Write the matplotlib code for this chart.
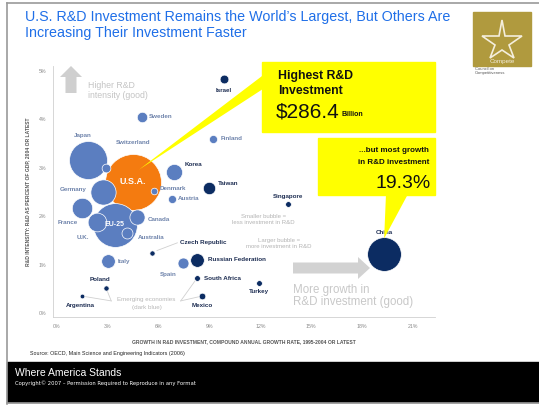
import matplotlib
matplotlib.use("Agg")
import matplotlib.pyplot as plt
from matplotlib.patches import Rectangle, Polygon, FancyArrow

plt.rcParams['font.family'] = ['Liberation Sans', 'DejaVu Sans']

# R&D growth (CAGR %, x), R&D intensity (% of GDP, y), R&D spend (billion $)
countries = ['U.S.A.', 'EU-25', 'Japan', 'China', 'Germany', 'France', 'U.K.', 'Korea',
             'Canada', 'Italy', 'Russian Federation', 'Taiwan', 'Australia', 'Spain',
             'Sweden', 'Switzerland', 'Israel', 'Finland', 'Austria', 'Denmark',
             'Mexico', 'Turkey', 'South Africa', 'Singapore', 'Czech Republic',
             'Poland', 'Argentina']
growth = [4.48, 3.42, 1.83, 19.3, 2.71, 1.47, 2.36, 6.9,
          4.72, 3.0, 8.26, 8.97, 4.13, 7.43,
          5.0, 2.9, 9.85, 9.2, 6.8, 5.72,
          8.55, 11.9, 8.26, 13.6, 5.6,
          2.89, 1.47]
intensity = [2.71, 1.82, 3.16, 1.22, 2.5, 2.17, 1.88, 2.91,
             1.98, 1.07, 1.1, 2.58, 1.65, 1.03,
             4.05, 3.0, 4.83, 3.6, 2.36, 2.52,
             0.35, 0.62, 0.72, 2.25, 1.24,
             0.52, 0.35]
invest = [286.4, 175, 132, 104, 58, 38, 32, 24,
          21, 17, 17, 14, 11, 11,
          10, 7, 7, 6, 6, 4,
          4, 3, 3, 3, 2.5,
          2.5, 2]
group = ['us', 'oecd', 'oecd', 'emerging', 'oecd', 'oecd', 'oecd', 'oecd',
         'oecd', 'oecd', 'emerging', 'emerging', 'oecd', 'oecd',
         'oecd', 'oecd', 'emerging', 'oecd', 'oecd', 'oecd',
         'emerging', 'emerging', 'emerging', 'emerging', 'emerging',
         'emerging', 'emerging']

xticks = [0, 3, 6, 9, 12, 15, 18, 21]
yticks = [0, 1, 2, 3, 4, 5]

# label offsets in pixels, alignment, style
label_pos = {
    'U.S.A.': (0, 0, 'center', 'inside'),
    'EU-25': (0, 0, 'center', 'inside'),
    'Japan': (-5, 25, 'center', 'light'),
    'China': (0, 21, 'center', 'dark'),
    'Germany': (-16, 2, 'right', 'light'),
    'France': (-4, -15, 'right', 'light'),
    'U.K.': (-14, -15, 'center', 'light'),
    'Korea': (11, 8, 'left', 'dark'),
    'Canada': (11, -2, 'left', 'light'),
    'Italy': (10, 0, 'left', 'light'),
    'Russian Federation': (11, 0, 'left', 'dark'),
    'Taiwan': (9, 5, 'left', 'dark'),
    'Australia': (11, -4, 'left', 'light'),
    'Spain': (-15, -11, 'center', 'light'),
    'Sweden': (7, 0, 'left', 'light'),
    'Switzerland': (27, 25, 'center', 'light'),
    'Israel': (0, -11, 'center', 'dark'),
    'Finland': (8, 0, 'left', 'light'),
    'Austria': (6, 0, 'left', 'light'),
    'Denmark': (6, 3, 'left', 'light'),
    'Mexico': (0, -9, 'center', 'dark'),
    'Turkey': (0, -9, 'center', 'dark'),
    'South Africa': (7, 0, 'left', 'dark'),
    'Singapore': (0, 8, 'center', 'dark'),
    'Czech Republic': (28, 10, 'left', 'dark'),
    'Poland': (-6, 8, 'center', 'dark'),
    'Argentina': (-2, -9, 'center', 'dark'),
}

W, H = 539, 405
fig = plt.figure(figsize=(W / 100, H / 100), dpi=100)
fig.patch.set_facecolor('white')

# plot area: 0% x at px 57, 16.95 px per point; 0% y at px 313, 48.4 px per point
ax_l, ax_r, ax_t, ax_b = 53, 435, 66, 317
ax = fig.add_axes([ax_l / W, 1 - ax_b / H, (ax_r - ax_l) / W, (ax_b - ax_t) / H])
ax.set_xlim(-(57 - ax_l) / 16.95, (ax_r - 57) / 16.95)
ax.set_ylim(-(ax_b - 313) / 48.4, (313 - ax_t) / 48.4)
ax.set_facecolor('none')
for s in ['top', 'right']:
    ax.spines[s].set_visible(False)
for s in ['left', 'bottom']:
    ax.spines[s].set_color('#d0d0d0')
    ax.spines[s].set_linewidth(0.6)
ax.set_xticks(xticks)
ax.set_xticklabels([f'{t}%' for t in xticks])
ax.set_yticks(yticks)
ax.set_yticklabels([f'{t}%' for t in yticks])
ax.tick_params(labelsize=3.8, colors='#b0b0b0', length=0, pad=5)
for t in ax.get_xticklabels() + ax.get_yticklabels():
    t.set_color('#8a8a8a')

colors = {'us': '#f47b10', 'oecd': '#5b7ec0', 'emerging': '#0c2c62'}
k = 5.68  # marker area per billion dollars
order = sorted(range(len(countries)), key=lambda i: -invest[i])
for rank, i in enumerate(order):
    ax.scatter(growth[i], intensity[i], s=invest[i] * k, color=colors[group[i]],
               edgecolor='white', linewidth=0.5, zorder=2 + rank * 0.01)

for i, name in enumerate(countries):
    dx, dy, ha, style = label_pos[name]
    if style == 'inside':
        kw = dict(color='white', fontsize=6.5 if name == 'U.S.A.' else 5, fontweight='bold')
    elif style == 'dark':
        kw = dict(color='#1d2d52', fontsize=4.5, fontweight='bold')
    else:
        kw = dict(color='#6e83ab', fontsize=4.5, fontweight='bold')
    ax.annotate(name, (growth[i], intensity[i]), xytext=(dx, dy),
                textcoords='offset pixels', ha=ha, va='center', zorder=5, **kw)

# leader lines
lc = '#d0d0d0'
ci = countries.index('Czech Republic')
ax.plot([growth[ci] + 0.3, 7.1], [intensity[ci] + 0.05, 1.45], color=lc, lw=0.6, zorder=1)
ax.text(5.25, 0.28, 'Emerging economies', fontsize=4.5, color='#b8b8b8',
        ha='center', va='center', zorder=5)
ax.text(5.3, 0.12, '(dark blue)', fontsize=4.5, color='#b8b8b8',
        ha='center', va='center', zorder=5)
for name, x0, y0 in [('Argentina', 3.2, 0.25), ('Poland', 3.2, 0.25),
                     ('South Africa', 7.3, 0.25), ('Mexico', 7.3, 0.25)]:
    j = countries.index(name)
    ax.plot([x0, growth[j]], [y0, intensity[j]], color=lc, lw=0.6, zorder=1)

ax.text(1.85, 4.6, 'Higher R&D\nintensity (good)', fontsize=6.3, color='#c4c4c4',
        ha='left', va='center', linespacing=1.1)
ax.text(13.9, 0.35, 'More growth in\nR&D investment (good)', fontsize=8.3, color='#c8c8c8',
        ha='left', va='center', linespacing=1.05)
ax.text(12.2, 1.94, 'Smaller bubble =\nless investment in R&D', fontsize=4.3,
        color='#b4b4b4', ha='center', va='center')
ax.text(13.1, 1.44, 'Larger bubble =\nmore investment in R&D', fontsize=4.3,
        color='#b4b4b4', ha='center', va='center')

ax.set_xlabel('GROWTH IN R&D INVESTMENT, COMPOUND ANNUAL GROWTH RATE, 1995-2004 OR LATEST',
              fontsize=3.6, color='#555555', fontweight='bold', labelpad=7)
ax.set_ylabel('R&D INTENSITY: R&D AS PERCENT OF GDP, 2004 OR LATEST',
              fontsize=3.6, color='#555555', fontweight='bold', labelpad=6)

# overlay in slide pixel coordinates
ov = fig.add_axes([0, 0, 1, 1], zorder=3)
ov.set_xlim(0, W)
ov.set_ylim(H, 0)
ov.axis('off')
ov.patch.set_alpha(0)

def to_px(x, y):
    fig.canvas.draw()
    px, py = ax.transData.transform((x, y))
    return px, H - py

# slide frame and footer
ov.plot([7, 7], [3, 404], color='#9a9a9a', lw=1.2)
ov.plot([7, W], [3, 3], color='#9a9a9a', lw=1.2)
ov.add_patch(Rectangle((7, 362), W - 7, 40, color='black'))
ov.plot([7, W], [403, 403], color='#9a9a9a', lw=1.2)
ov.text(15, 373, 'Where America Stands', color='white', fontsize=7.5, va='center')
ov.text(15, 383, 'Copyright\u00a9 2007 \u2013 Permission Required to Reproduce in any Format',
        color='white', fontsize=3.8, va='center', family='DejaVu Sans')
ov.text(30, 354, 'Source: OECD, Main Science and Engineering Indicators (2006)',
        fontsize=3.9, color='#222222', va='center')

ov.text(25, 25, 'U.S. R&D Investment Remains the World\u2019s Largest, But Others Are\n'
        'Increasing Their Investment Faster', color='#1f6fe8', fontsize=10.3,
        va='center', linespacing=1.25)

# logo
ov.add_patch(Rectangle((473, 12), 58, 54, color='#b09a3e'))
star = [(502, 20), (505, 36), (522, 36), (509, 45), (514, 58), (502, 50), (490, 58),
        (495, 45), (482, 36), (499, 36)]
ov.add_patch(Polygon(star, closed=True, fill=False, edgecolor='#f4eedc', lw=1.2))
ov.text(502, 62, 'Compete', color='#f4eedc', fontsize=4.5, ha='center', va='center')
ov.text(475, 71, 'Council on\nCompetitiveness', color='#555555', fontsize=3,
        ha='left', va='center', linespacing=0.9)

# gray direction arrows
ov.add_patch(FancyArrow(71, 93, 0, -27, width=11, head_width=22, head_length=11,
                        length_includes_head=True, color='#cfcfcf', lw=0))
ov.add_patch(FancyArrow(293, 268, 77, 0, width=11, head_width=22, head_length=12,
                        length_includes_head=True, color='#d2d2d2', lw=0))

# callouts
yellow = '#ffff00'
ui = countries.index('U.S.A.')
ux, uy = to_px(growth[ui] + 0.35, intensity[ui] + 0.25)
ov.add_patch(Polygon([(266, 73), (266, 87), (ux, uy)], color=yellow, lw=0))
ov.add_patch(Rectangle((262, 62), 173, 70, color=yellow))
ov.text(278, 76, 'Highest R&D', fontsize=8.8, fontweight='bold', color='#111111', va='center')
ov.text(278, 91, 'Investment', fontsize=8.8, fontweight='bold', color='#111111', va='center')
ov.text(276, 112, '$286.4', fontsize=15, color='#111111', va='center')
ov.text(341, 115, 'Billion', fontsize=5, fontweight='bold', color='#111111', va='center')

chi = countries.index('China')
cx, cy = to_px(growth[chi], intensity[chi] + 0.32)
ov.add_patch(Polygon([(386, 194), (408, 194), (cx, cy)], color=yellow, lw=0))
ov.add_patch(Rectangle((318, 138), 117, 57, color=yellow))
ov.text(429, 150, '...but most growth', fontsize=5.8, fontweight='bold', color='#111111',
        ha='right', va='center')
ov.text(429, 162, 'in R&D investment', fontsize=5.8, fontweight='bold', color='#111111',
        ha='right', va='center')
ov.text(431, 183, '19.3%', fontsize=14, color='#111111', ha='right', va='center')

fig.savefig('out.png', dpi=100)
